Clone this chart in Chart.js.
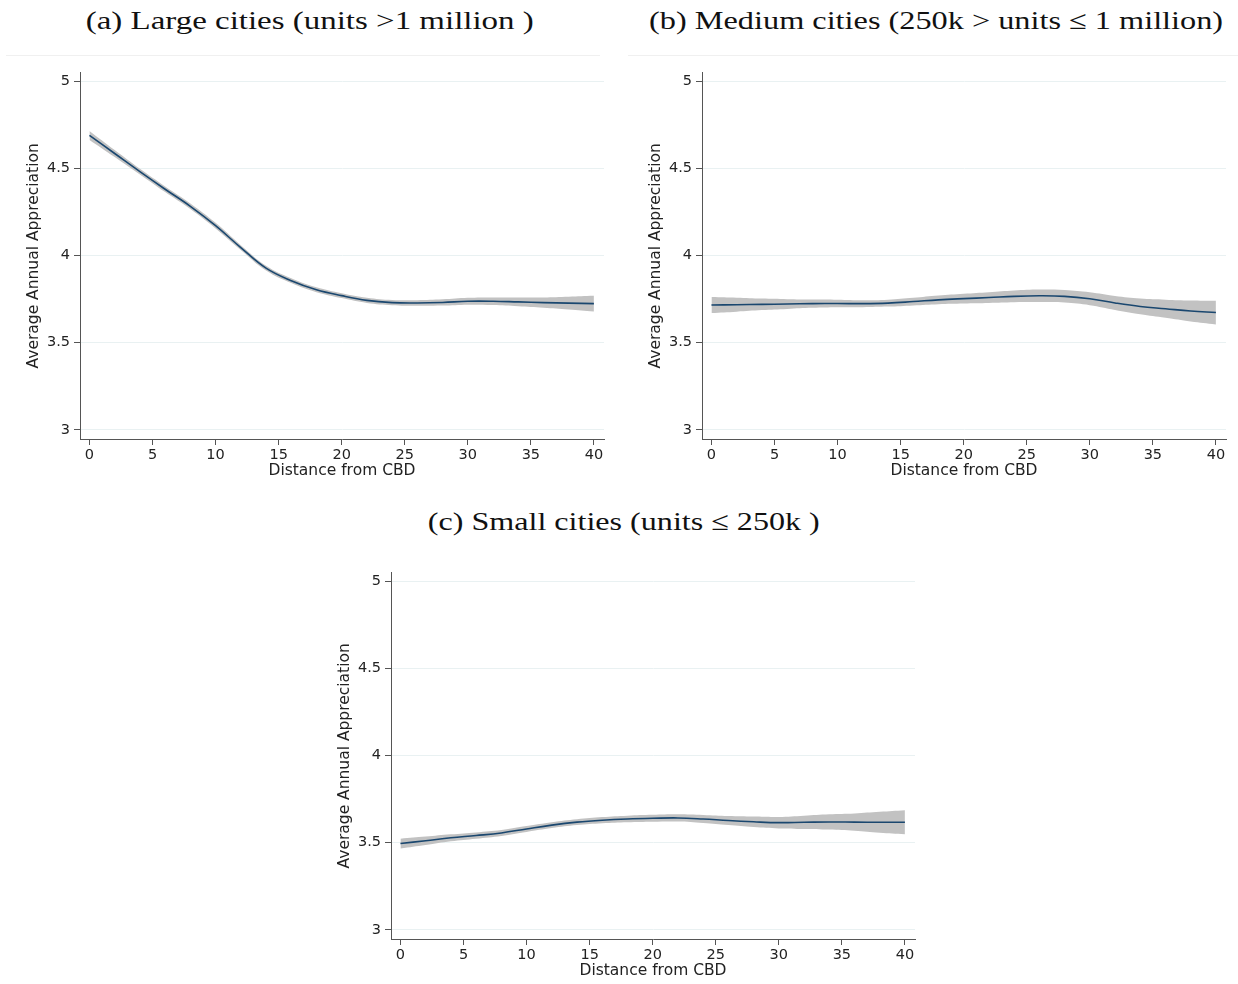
<!DOCTYPE html>
<html><head><meta charset="utf-8">
<script src="https://cdn.jsdelivr.net/npm/chart.js@4.4.1/dist/chart.umd.min.js"></script>
<style>
html,body{margin:0;padding:0;background:#fff;}
body{width:1238px;height:984px;position:relative;overflow:hidden;}
canvas{position:absolute;}
.ttl{position:absolute;font-family:"Liberation Serif","DejaVu Serif",serif;font-size:26px;line-height:30px;color:#111;white-space:nowrap;transform-origin:center center;}
.sep{position:absolute;height:1px;background:#f0f0f0;top:55px;}
</style></head><body>
<div class="sep" style="left:6px;width:594px"></div>
<div class="sep" style="left:628px;width:610px"></div>
<div class="ttl" id="tA" data-cx="310" data-cy="21" data-w="448">(a) Large cities (units &gt;1 million )</div>
<div class="ttl" id="tB" data-cx="936" data-cy="21" data-w="574">(b) Medium cities (250k &gt; units ≤ 1 million)</div>
<div class="ttl" id="tC" data-cx="624" data-cy="522" data-w="392">(c) Small cities (units ≤ 250k )</div>
<canvas id="cA" width="620" height="430" style="left:0px;top:60px"></canvas>
<canvas id="cB" width="616" height="430" style="left:622px;top:60px"></canvas>
<canvas id="cC" width="619" height="430" style="left:311px;top:560px"></canvas>
<script>
// ---- data ----
const distance = [0,2,4,6,8,10,12,14,16,18,20,22,24,26,28,30,32,34,36,38,40];
const xTicks = [0,5,10,15,20,25,30,35,40];
const yTicks = [3,3.5,4,4.5,5];

const largeFit  = [4.690,4.586,4.482,4.381,4.283,4.172,4.046,3.928,3.856,3.804,3.770,3.743,3.730,3.728,3.731,3.738,3.738,3.734,3.730,3.727,3.724];
const largeHalf = [0.026,0.020,0.016,0.016,0.016,0.016,0.014,0.014,0.014,0.014,0.014,0.015,0.015,0.016,0.018,0.020,0.022,0.025,0.030,0.037,0.045];

const mediumFit  = [3.716,3.718,3.720,3.722,3.724,3.725,3.724,3.727,3.736,3.746,3.753,3.759,3.766,3.769,3.766,3.752,3.728,3.708,3.695,3.682,3.673];
const mediumHalf = [0.046,0.040,0.033,0.028,0.024,0.022,0.020,0.020,0.022,0.025,0.028,0.031,0.034,0.036,0.036,0.037,0.040,0.045,0.052,0.060,0.068];

const smallFit  = [3.495,3.511,3.528,3.541,3.556,3.579,3.601,3.618,3.629,3.636,3.640,3.642,3.636,3.627,3.620,3.615,3.617,3.619,3.618,3.617,3.617];
const smallHalf = [0.028,0.024,0.020,0.018,0.017,0.017,0.017,0.017,0.018,0.019,0.020,0.021,0.023,0.026,0.030,0.033,0.038,0.044,0.050,0.060,0.069];

const xTitle = 'Distance from CBD';
const yTitle = 'Average Annual Appreciation';

// ---- styles ----
const TICKFONT = {family:'"DejaVu Sans", sans-serif', size:14.5, lineHeight:1.2};
const TITLEFONT = {family:'"DejaVu Sans", sans-serif', size:15.5, lineHeight:1.2};
const AXIS = '#555555';
const GRID = '#e9f1f2';
const LINE = '#1a476f';
const BAND = '#c2c2c2';

function pts(ys){ return distance.map((x,i)=>({x:x, y:ys[i]})); }

function makeChart(id, fit, half, padRight){
  const upper = fit.map((v,i)=>v+half[i]);
  const lower = fit.map((v,i)=>v-half[i]);
  new Chart(document.getElementById(id), {
    type:'line',
    data:{datasets:[
      {data:pts(upper), borderWidth:0, borderColor:'rgba(0,0,0,0)', pointRadius:0, fill:false, tension:0.4, order:2},
      {data:pts(lower), borderWidth:0, borderColor:'rgba(0,0,0,0)', pointRadius:0, fill:'-1', backgroundColor:BAND, tension:0.4, order:1},
      {data:pts(fit), borderWidth:1.6, borderColor:LINE, pointRadius:0, fill:false, tension:0.4, order:0}
    ]},
    options:{
      responsive:false, animation:false, events:[],
      layout:{padding:{top:12,right:padRight,left:0,bottom:0}},
      plugins:{legend:{display:false}, tooltip:{enabled:false}},
      scales:{
        x:{type:'linear', min:-0.75, max:40.8,
          afterBuildTicks(s){ s.ticks = xTicks.map(v=>({value:v})); },
          afterFit(s){ s.height = 51; },
          ticks:{font:TICKFONT, color:'#222', padding:2, maxRotation:0, autoSkip:false, callback:v=>String(v)},
          grid:{display:true, drawOnChartArea:false, drawTicks:true, tickLength:6, tickColor:AXIS},
          border:{display:true, color:AXIS, width:1},
          title:{display:true, text:xTitle, font:TITLEFONT, color:'#222', padding:{top:0,bottom:9.5}}
        },
        y:{type:'linear', min:2.947, max:5.05,
          afterBuildTicks(s){ s.ticks = yTicks.map(v=>({value:v})); },
          afterFit(s){ s.width = 80; },
          ticks:{font:TICKFONT, color:'#222', padding:4, autoSkip:false, callback:v=>String(v)},
          grid:{display:true, drawOnChartArea:true, color:GRID, lineWidth:1, drawTicks:true, tickLength:6, tickColor:AXIS},
          border:{display:true, color:AXIS, width:1},
          title:{display:true, text:yTitle, font:TITLEFONT, color:'#222', padding:{top:24.5,bottom:0}}
        }
      }
    }
  });
}

makeChart('cA', largeFit, largeHalf, 16);
makeChart('cB', mediumFit, mediumHalf, 12);
makeChart('cC', smallFit, smallHalf, 15);

// fit panel titles
document.querySelectorAll('.ttl').forEach(el=>{
  const w = el.getBoundingClientRect().width;
  const cx = +el.dataset.cx, cy = +el.dataset.cy, tw = +el.dataset.w;
  el.style.left = (cx - w/2) + 'px';
  el.style.top = (cy - 15) + 'px';
  el.style.transform = 'scaleX(' + (tw/w) + ')';
});
</script>
</body></html>
